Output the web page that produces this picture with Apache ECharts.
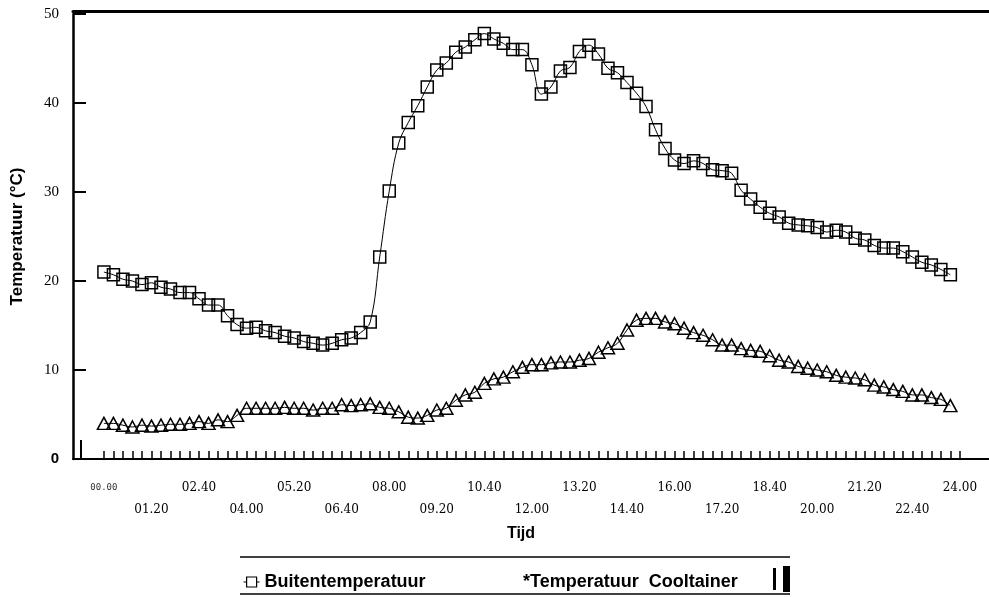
<!DOCTYPE html>
<html>
<head>
<meta charset="utf-8">
<script src="https://cdn.jsdelivr.net/npm/echarts@6/dist/echarts.min.js"></script>
<style>
html,body{margin:0;padding:0;background:#fff;}
#main{width:989px;height:597px;}
</style>
</head>
<body>
<div id="main"></div>
<script>
// 采样间隔(分钟)
var stepMin = 16;
// 横轴标签
var tickLabels = ['00.00','01.20','02.40','04.00','05.20','06.40','08.00','09.20','10.40','12.00',
	'13.20','14.40','16.00','17.20','18.40','20.00','21.20','22.40','24.00'];
// 标签间隔(分钟)
var labelStep = 80;
// 纵轴刻度
var yTicks = [0, 10, 20, 30, 40, 50];
// Buitentemperatuur
var buiten = [21.0,20.7,20.2,20.0,19.6,19.8,19.3,19.1,18.7,18.7,
	18.0,17.3,17.3,16.1,15.1,14.7,14.8,14.4,14.2,13.8,
	13.6,13.2,13.0,12.8,13.0,13.4,13.6,14.2,15.4,22.7,
	30.1,35.5,37.8,39.7,41.8,43.7,44.5,45.7,46.3,47.1,
	47.8,47.2,46.7,46.0,46.0,44.3,41.0,41.8,43.6,44.0,
	45.8,46.5,45.5,43.9,43.4,42.3,41.1,39.6,37.0,34.9,
	33.6,33.2,33.5,33.2,32.5,32.4,32.1,30.2,29.2,28.3,
	27.6,27.2,26.5,26.3,26.2,26.0,25.5,25.7,25.5,24.8,
	24.6,24.0,23.7,23.7,23.3,22.7,22.1,21.8,21.3,20.7];
// Temperatuur Cooltainer
var cooltainer = [4.0,4.0,3.8,3.6,3.8,3.7,3.8,3.9,3.9,4.0,
	4.2,4.0,4.4,4.2,4.9,5.7,5.7,5.7,5.7,5.8,
	5.7,5.7,5.5,5.7,5.7,6.1,6.0,6.1,6.2,5.8,
	5.7,5.3,4.7,4.6,4.9,5.5,5.7,6.6,7.2,7.5,
	8.5,9.0,9.2,9.8,10.3,10.6,10.6,10.8,10.9,10.9,
	11.1,11.3,12.0,12.5,13.0,14.5,15.6,15.8,15.8,15.4,
	15.2,14.7,14.2,13.9,13.4,12.8,12.8,12.4,12.2,12.1,
	11.6,11.1,10.9,10.4,10.2,10.0,9.8,9.4,9.2,9.1,
	8.9,8.3,8.1,7.8,7.6,7.2,7.2,6.9,6.7,6.0];

// 刻度位置(分钟)
var tickMinutes = [];
for (var i = 0; i <= 24 * 60 / stepMin; i++) { tickMinutes.push(i * stepMin); }
var labelMinutes = tickLabels.map(function (t, i) { return i * labelStep; });

function toPairs(arr) {
	return arr.map(function (v, i) { return [i * stepMin, v]; });
}

var myChart = echarts.init(document.getElementById('main'));
var option = {
	backgroundColor: '#fff',
	animation: false,
	grid: { left: 73, right: 0, top: 14, bottom: 138 },
	legend: [
		{
			left: 238, top: 568,
			data: ['Buitentemperatuur'],
			icon: 'path://M0,6H3M3,1H13V11H3ZM13,6H16',
			itemWidth: 16, itemHeight: 12, itemGap: 5,
			itemStyle: { color: 'transparent', borderColor: '#000', borderWidth: 1.2 },
			textStyle: { fontFamily: 'Liberation Sans', fontWeight: 'bold', fontSize: 18, color: '#000' }
		},
		{
			left: 497, top: 568,
			data: ['Temperatuur Cooltainer'],
			icon: 'none',
			itemWidth: 16, itemHeight: 12, itemGap: 5,
			formatter: function () { return '*Temperatuur  Cooltainer'; },
			textStyle: { fontFamily: 'Liberation Sans', fontWeight: 'bold', fontSize: 18, color: '#000' }
		}
	],
	xAxis: [
		{
			type: 'value',
			min: -52, max: 1489,
			name: 'Tijd',
			nameLocation: 'middle',
			nameGap: 50,
			nameTextStyle: { fontFamily: 'Liberation Sans', fontWeight: 'bold', fontSize: 16, color: '#000', padding: [0, 20, 0, 0] },
			splitLine: { show: false },
			axisLine: { onZero: false, lineStyle: { color: '#000', width: 2 } },
			axisTick: { customValues: tickMinutes, inside: true, length: 8, lineStyle: { color: '#000', width: 1.5 } },
			axisLabel: {
				customValues: labelMinutes,
				margin: 18,
				lineHeight: 22,
				fontFamily: 'DejaVu Serif', fontSize: 12, color: '#000',
				formatter: function (v) {
					var k = Math.round(v / labelStep);
					var t = tickLabels[k];
					if (k === 0) return '{s|' + t + '}';
					return k % 2 === 1 ? '\n' + t : t;
				},
				rich: { s: { fontFamily: 'DejaVu Sans Mono', fontSize: 9, color: '#333' } }
			}
		},
		{
			type: 'value', position: 'top', min: -52, max: 1489, offset: 3,
			axisLine: { onZero: false, lineStyle: { color: '#000', width: 3 } },
			axisTick: { show: false }, axisLabel: { show: false }, splitLine: { show: false }
		}
	],
	yAxis: {
		type: 'value',
		min: 0, max: 50, interval: 10,
		name: 'Temperatuur (°C)',
		nameLocation: 'middle',
		nameGap: 47,
		nameTextStyle: { fontFamily: 'Liberation Sans', fontWeight: 'bold', fontSize: 17, color: '#000' },
		splitLine: { show: false },
		axisLine: { show: true, onZero: false, lineStyle: { color: '#000', width: 2.5 } },
		axisTick: { show: true, inside: true, length: 13, lineStyle: { color: '#000', width: 2 } },
		axisLabel: {
			margin: 14,
			fontFamily: 'Liberation Serif', fontSize: 15, color: '#000',
			formatter: function (v) {
				return v === yTicks[0] ? '{z|' + v + '}' : String(v);
			},
			rich: { z: { fontFamily: 'Liberation Sans', fontWeight: 'bold', fontSize: 15, color: '#000' } }
		}
	},
	series: [
		{
			name: 'Buitentemperatuur',
			type: 'line',
			smooth: 0.4,
			data: toPairs(buiten),
			symbol: 'rect',
			symbolSize: 12,
			itemStyle: { color: 'transparent', borderColor: '#000', borderWidth: 1.5 },
			lineStyle: { color: '#000', width: 1 }
		},
		{
			name: 'Temperatuur Cooltainer',
			type: 'line',
			smooth: 0.4,
			data: toPairs(cooltainer),
			symbol: 'triangle',
			symbolSize: [13, 12],
			itemStyle: { color: 'transparent', borderColor: '#000', borderWidth: 1.5 },
			lineStyle: { color: '#000', width: 1 }
		}
	],
	graphic: [
		// 图例框线
		{ type: 'line', shape: { x1: 240, y1: 557, x2: 790, y2: 557 }, style: { stroke: '#000', lineWidth: 1.5 } },
		{ type: 'line', shape: { x1: 240, y1: 594, x2: 790, y2: 594 }, style: { stroke: '#000', lineWidth: 1.5 } },
		{ type: 'rect', shape: { x: 773, y: 568, width: 3, height: 22 }, style: { fill: '#000' } },
		{ type: 'rect', shape: { x: 783, y: 566, width: 7, height: 26 }, style: { fill: '#000' } },
		{ type: 'line', shape: { x1: 81, y1: 440, x2: 81, y2: 459 }, style: { stroke: '#000', lineWidth: 2 } }
	]
};
myChart.setOption(option);
</script>
</body>
</html>
